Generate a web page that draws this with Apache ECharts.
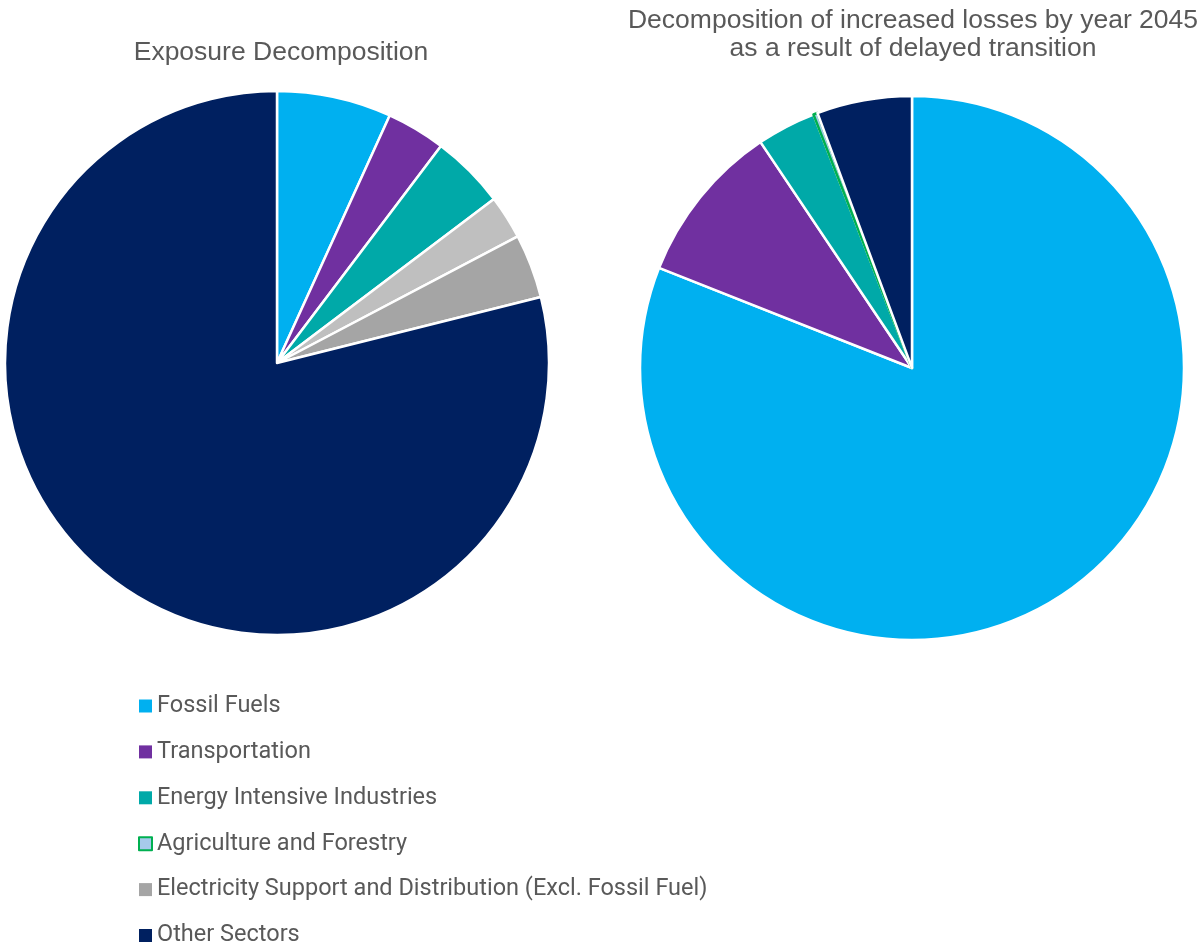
<!DOCTYPE html>
<html>
<head>
<meta charset="utf-8">
<script src="https://cdn.jsdelivr.net/npm/echarts@6/dist/echarts.min.js"></script>
<style>
  html, body { margin: 0; padding: 0; background: #ffffff; }
  #chart { width: 1201px; height: 946px; }
</style>
</head>
<body>
<div id="chart"></div>
<script>
// Sector names, shared by both pies and the legend
const sectors = [
  'Fossil Fuels',
  'Transportation',
  'Energy Intensive Industries',
  'Agriculture and Forestry',
  'Electricity Support and Distribution (Excl. Fossil Fuel)',
  'Other Sectors'
];

// Share of exposure by sector (%)
const exposureShare = [6.8, 3.5, 4.4, 2.6, 3.8, 78.9];

// Share of increased losses by 2045 under delayed transition (%)
const lossShare = [81.0, 9.6, 3.5, 0.25, 0, 5.65];

// Slice colours
const exposureColors = ['#00B0F0', '#7030A0', '#00A9A8', '#BFBFBF', '#A5A5A5', '#002060'];
const lossColors = ['#00B0F0', '#7030A0', '#00A9A8', '#A6CAEC', '#A5A5A5', '#002060'];

const titles = [
  'Exposure Decomposition',
  'Decomposition of increased losses by year 2045\nas a result of delayed transition'
];

function buildData(values, colors, special) {
  const out = [];
  values.forEach((v, i) => {
    if (v <= 0) return;
    const style = { color: colors[i] };
    if (special && special[i]) Object.assign(style, special[i]);
    out.push({ name: sectors[i], value: v, itemStyle: style });
  });
  return out;
}

const chart = echarts.init(document.getElementById('chart'), null, { renderer: 'canvas' });

const baseSeries = {
  type: 'pie',
  radius: [0, 272],
  startAngle: 90,
  clockwise: true,
  avoidLabelOverlap: false,
  label: { show: false },
  labelLine: { show: false },
  emphasis: { disabled: true },
  silent: true,
  animation: false,
  itemStyle: { borderColor: '#ffffff', borderWidth: 2.5 }
};

// Legend swatches (Agriculture shows a light fill with a green outline)
const legendData = sectors.map((name, i) => {
  const item = { name: name, itemStyle: { color: lossColors[i], borderWidth: 0 } };
  if (i === 3) item.itemStyle = { color: '#A6CAEC', borderColor: '#00B050', borderWidth: 2 };
  if (i === 4) item.itemStyle = { color: '#A5A5A5', borderWidth: 0 };
  return item;
});

const titleFont = { fontFamily: 'Liberation Sans, Arial, sans-serif', fontSize: 26.5, fontWeight: 'normal', color: '#595959' };

chart.setOption({
  backgroundColor: '#ffffff',
  title: [
    {
      text: titles[0],
      left: 276, top: 34, textAlign: 'center',
      textStyle: Object.assign({ lineHeight: 28 }, titleFont)
    },
    {
      text: titles[1],
      left: 908, top: 1, textAlign: 'center',
      textStyle: Object.assign({ lineHeight: 28.5 }, titleFont)
    }
  ],
  legend: {
    orient: 'vertical',
    left: 133,
    top: 689,
    height: 260,
    itemWidth: 13,
    itemHeight: 13,
    itemGap: 21.9,
    icon: 'rect',
    selectedMode: false,
    data: legendData,
    textStyle: { fontFamily: 'Roboto, Noto Sans, sans-serif', fontSize: 23.5, color: '#595959', lineHeight: 23.5 }
  },
  series: [
    Object.assign({}, baseSeries, {
      name: 'Exposure',
      center: [277, 363],
      data: buildData(exposureShare, exposureColors)
    }),
    Object.assign({}, baseSeries, {
      name: 'Losses',
      center: [912, 368],
      data: buildData(lossShare, lossColors, { 3: { borderColor: '#00B050', borderWidth: 2.5 } })
    })
  ]
});
</script>
</body>
</html>
